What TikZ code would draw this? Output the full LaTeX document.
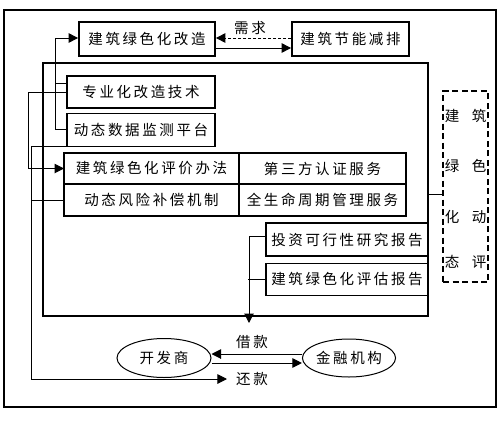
\documentclass[tikz,border=0pt]{standalone}
\usepackage{fontspec}
\newfontfamily\cjkfont{Noto Sans CJK SC}[LetterSpace=18]
\usetikzlibrary{arrows.meta, positioning, shapes.geometric}
\begin{document}
\begin{tikzpicture}[
  x=1pt, y=-1pt,
  every node/.style={font=\cjkfont\fontsize{14.5}{17}\selectfont, inner sep=0pt},
  box/.style={draw, line width=1.3pt},
  topbox/.style={draw, line width=1.8pt, minimum height=34pt},
  cell/.style={draw, line width=1.3pt, outer sep=0pt},
  party/.style={draw, ellipse, line width=1pt, minimum width=94pt, minimum height=39pt},
  arr/.style={-{Triangle[length=9.5pt, width=9.5pt]}, line width=1pt},
  link/.style={line width=1pt},
]
  \useasboundingbox (0,0) rectangle (501,421);
  \draw[line width=1.2pt] (4,10) rectangle (496,407);

  % the support platform
  \node[draw, line width=1.6pt, minimum width=385pt, minimum height=253pt] (platform) at (235.5,189.5) {};

  \node[topbox, minimum width=136pt] (gaizao) at (147,39) {建筑绿色化改造};
  \node[topbox, minimum width=117pt] (jieneng) at (350.5,39) {建筑节能减排};
  \node (xuqiu) at (250,28) {需求};

  \node[box, minimum width=148pt, minimum height=32pt] (jishu) at (141,92) {专业化改造技术};
  \node[box, minimum width=148pt, minimum height=33pt, below=4pt of jishu] (jiance) {动态数据监测平台};

  \node[cell, minimum width=175pt, minimum height=31pt] (pingjia) at (151.5,168.5) {建筑绿色化评价办法};
  \node[cell, minimum width=167pt, minimum height=31pt, right=0pt of pingjia] (renzheng) {第三方认证服务};
  \node[cell, minimum width=175pt, minimum height=32pt, below=0pt of pingjia] (fengxian) {动态风险补偿机制};
  \node[cell, minimum width=167pt, minimum height=32pt, below=0pt of renzheng] (zhouqi) {全生命周期管理服务};

  \node[box, minimum width=162pt, minimum height=33pt] (baogao1) at (347,239.5) {投资可行性研究报告};
  \node[box, minimum width=162pt, minimum height=32pt, below=6pt of baogao1] (baogao2) {建筑绿色化评估报告};

  % dynamic evaluation
  \node[draw, line width=1.3pt, dash pattern=on 6pt off 3.5pt, minimum width=45pt, minimum height=191pt] (evalbox) at (465.5,186.5) {};
  \foreach \a/\b/\y in {建/筑/116, 绿/色/166, 化/动/217, 态/评/262}{
    \node (evl\y) at (452,\y) {\a};
    \node (evr\y) at (479,\y) {\b};
  }

  \node[party] (kaifa) at (164,358) {开发商};
  \node[party, minimum width=92pt, minimum height=38pt] (jinrong) at (349,358) {金融机构};
  \node (jiekuan) at (252,342) {借款};
  \node (huankuan) at (252,379) {还款};
  \coordinate (loan) at (249,323);

  \draw[arr, dash pattern=on 3pt off 2pt] ([yshift=1pt]jieneng.west) -- ([yshift=1pt]gaizao.east);
  \draw[arr] ([yshift=-9pt]gaizao.east) -- ([yshift=-9pt]jieneng.west);

  \draw[arr] (jiance.west) -| ([xshift=-11pt]jishu.west) |- ([yshift=1pt]gaizao.west);
  \draw[link] ([yshift=9pt]jishu.west) -- ++(-11,0);
  \draw[arr] (jishu.west) -- ++(-38,0) |- (pingjia.west);
  \draw[arr] (jiance.south west) -- ++(-35,0) |- ([xshift=-9pt]huankuan.west);
  \draw[link] (fengxian.west) -- ++(-32,0);

  \draw[arr] ([yshift=3pt]baogao1.west) -| (loan);
  \draw[link] (baogao2.west) -- ++(-17,0);
  \draw[link] ([yshift=-4.5pt]platform.east) -- ([yshift=-4.5pt]platform.east -| evalbox.west);

  \draw[arr] ([yshift=4pt]jinrong.west) -- ([yshift=4pt]kaifa.east);
  \draw[arr] ([yshift=-5pt]kaifa.east) -- ([yshift=-5pt]jinrong.west);
\end{tikzpicture}
\end{document}
